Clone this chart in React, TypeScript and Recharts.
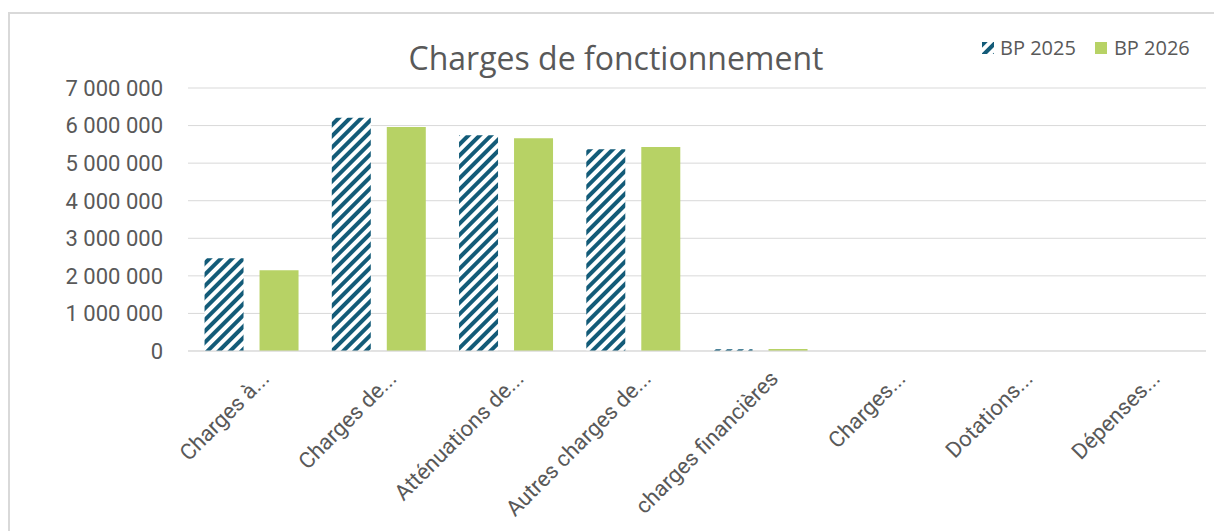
import React from 'react';
import { BarChart, Bar, XAxis, YAxis, CartesianGrid } from 'recharts';

const categories = [
  'Charges à...',
  'Charges de...',
  'Atténuations de...',
  'Autres charges de...',
  'charges financières',
  'Charges...',
  'Dotations...',
  'Dépenses...',
];
const bp2025 = [2470000, 6210000, 5740000, 5370000, 45000, 0, 0, 0];
const bp2026 = [2150000, 5960000, 5660000, 5430000, 55000, 0, 0, 0];
const yTicks = [0, 1000000, 2000000, 3000000, 4000000, 5000000, 6000000, 7000000];

const TEAL = '#135B78';
const GREEN = '#B7D265';
const TEXT = '#595959';
const FONT = '"Open Sans", sans-serif';
const AXIS_FONT = 'Roboto, sans-serif';

const data = categories.map((name, i) => ({ name, bp2025: bp2025[i], bp2026: bp2026[i] }));

// 7000000 -> "7 000 000"
const fmt = (v: number) => String(v).replace(/\B(?=(\d{3})+(?!\d))/g, ' ');

const AngledTick = (props: any) => {
  const { x, y, payload } = props;
  return (
    <g transform={`translate(${x + 19},${y + 21})`}>
      <text x={0} y={0} textAnchor="end" transform="rotate(-45)" fill={TEXT} fontSize={22} fontFamily={AXIS_FONT}>
        {payload.value}
      </text>
    </g>
  );
};

const App: React.FC = () => {
  return (
    <div
      style={{
        position: 'relative', width: 1212, height: 520, marginTop: 4,
        borderTop: '2px solid #D9D9D9', borderLeft: '2px solid #D9D9D9', background: '#fff',
      }}
    >
      <div
        style={{
          position: 'absolute', left: 0, right: 0, top: 22, textAlign: 'center',
          fontFamily: FONT, fontSize: 32, color: TEXT, zIndex: 1, lineHeight: '44px',
        }}
      >
        Charges de fonctionnement
      </div>
      <div
        style={{
          position: 'absolute', left: 972, top: 20, display: 'flex', alignItems: 'center',
          fontFamily: FONT, fontSize: 20, color: TEXT, zIndex: 1, lineHeight: '28px',
        }}
      >
        <svg width={12} height={12} style={{ marginRight: 6 }}>
          <rect width={12} height={12} fill="url(#hatch)" />
        </svg>
        <span style={{ marginRight: 19 }}>BP 2025</span>
        <span style={{ display: 'inline-block', width: 12, height: 12, background: GREEN, marginRight: 7 }} />
        <span>BP 2026</span>
      </div>
      <BarChart
        width={1212}
        height={520}
        data={data}
        margin={{ top: 74, right: 16, left: 0, bottom: 0 }}
        barCategoryGap="13%"
        barGap={16}
      >
        <defs>
          <pattern id="hatch" width={8} height={8} patternUnits="userSpaceOnUse" patternTransform="rotate(45)">
            <rect width={8} height={8} fill="#fff" />
            <rect width={4} height={8} fill={TEAL} />
          </pattern>
        </defs>
        <CartesianGrid vertical={false} stroke="#D9D9D9" />
        <XAxis
          dataKey="name"
          interval={0}
          height={183}
          axisLine={{ stroke: '#D9D9D9' }}
          tickLine={false}
          tick={<AngledTick />}
        />
        <YAxis
          width={178}
          domain={[0, 7000000]}
          ticks={yTicks}
          tickFormatter={fmt}
          axisLine={false}
          tickLine={false}
          tickMargin={19}
          tick={{ fill: TEXT, fontSize: 22, fontFamily: AXIS_FONT }}
        />
        <Bar dataKey="bp2025" name="BP 2025" fill="url(#hatch)" isAnimationActive={false} />
        <Bar dataKey="bp2026" name="BP 2026" fill={GREEN} isAnimationActive={false} />
      </BarChart>
    </div>
  );
};

export default App;
